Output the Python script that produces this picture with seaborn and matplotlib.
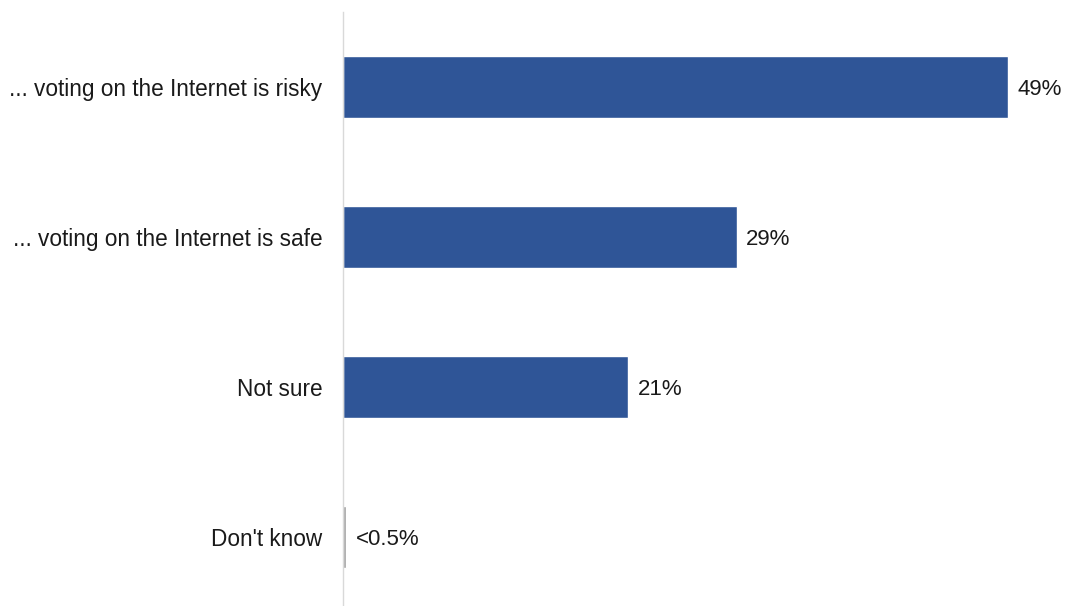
import pandas as pd
import matplotlib.pyplot as plt
import seaborn as sns

categories = ['... voting on the Internet is risky', '... voting on the Internet is safe',
              'Not sure', "Don't know"]
values = [49, 29, 21, 0.2]
labels = ['49%', '29%', '21%', '<0.5%']
colors = ['#2F5597', '#2F5597', '#2F5597', '#A0A0A0']

df = pd.DataFrame({'category': categories, 'value': values})

sns.set_style('white')
plt.rcParams['font.family'] = ['Liberation Sans', 'DejaVu Sans']

fig = plt.figure(figsize=(10.65, 6.06), dpi=100)
ax = fig.add_axes([343 / 1065, 0.0, 1 - 343 / 1065, 1 - 12 / 606])

sns.barplot(data=df, x='value', y='category', hue='category', palette=colors,
            width=0.41, legend=False, ax=ax, saturation=1)

ax.set_xlim(0, 722 / 13.57)
ax.set_ylim(3.46, -0.5)

# etichette dei valori
for i, (v, lab) in enumerate(zip(values, labels)):
    ax.text(v + 0.72, i, lab, va='center_baseline', ha='left', fontsize=16, color='#1a1a1a')

ax.set_xlabel('')
ax.set_ylabel('')
ax.set_xticks([])
ax.tick_params(axis='y', length=0, pad=15, labelsize=16.3, labelcolor='#1a1a1a')
for s in ['top', 'right', 'bottom']:
    ax.spines[s].set_visible(False)
ax.spines['left'].set_color('#d9d9d9')
ax.spines['left'].set_linewidth(1)

fig.savefig('out.png', dpi=100)
